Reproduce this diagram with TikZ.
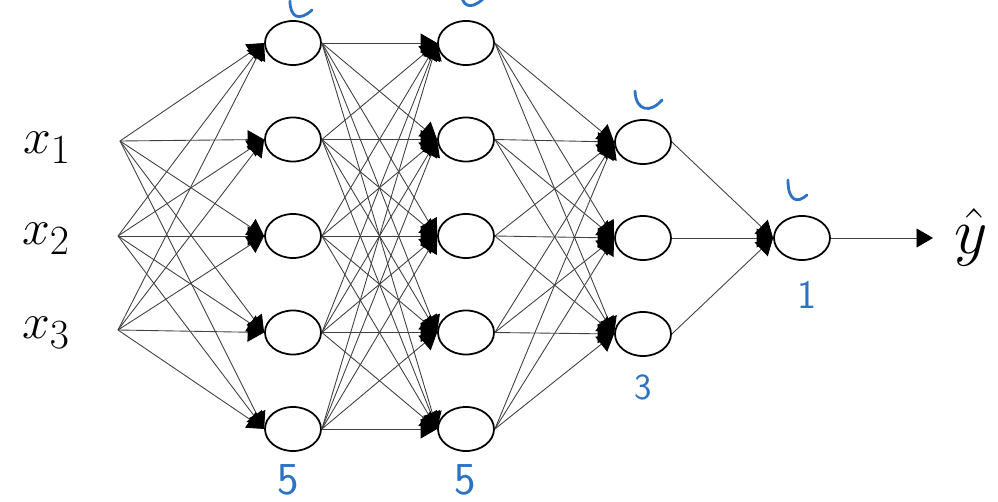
\documentclass[tikz,border=0pt]{standalone}
\usepackage{amsmath}
\usetikzlibrary{calc}
\usetikzlibrary{shapes.geometric}
\usetikzlibrary{arrows.meta}
\definecolor{inkblue}{RGB}{45,115,195}
\tikzset{
	unit/.style={ellipse,draw,line width=1pt,minimum width=11.2mm,minimum height=8.8mm,inner sep=0pt},
	link/.style={draw=black!75,line width=0.5pt,-{Triangle[length=3.3mm,width=3.8mm,color=black]}},
	hand/.style={inkblue,line width=1.6pt,line cap=round},
	handnum/.style={text=inkblue,font=\sffamily\fontsize{26}{28}\selectfont},
	big/.style={font=\fontsize{24.88}{30}\selectfont,scale=1.14}
}

\begin{document}
\begin{tikzpicture}
	\useasboundingbox (0,0) rectangle (19.96,10.04);
	% inputs
	\coordinate (in1) at (2.4,7.22);
	\coordinate (in2) at (2.36,5.32);
	\coordinate (in3) at (2.36,3.44);
	\node[big] (x1) at (0.94,7.08) {$x_1$};
	\node[big] (x2) at (0.92,5.26) {$x_2$};
	\node[big] (x3) at (0.92,3.38) {$x_3$};

	% hidden layers
	\foreach \i/\y in {1/9.18,2/7.25,3/5.32,4/3.39,5/1.46} {
		\node[unit] (a\i) at (5.86,\y) {};
		\node[unit] (b\i) at (9.32,\y) {};
	}
	\foreach \i/\y in {1/7.2,2/5.28,3/3.36}
		\node[unit] (c\i) at (12.86,\y) {};
	\node[unit] (out) at (16.04,5.28) {};

	\foreach \j in {1,...,5} {
		\foreach \i in {1,2,3} \draw[link] (in\i) -- (a\j.west);
		\foreach \i in {1,...,5} \draw[link] (a\i.east) -- (b\j.west);
	}
	\foreach \j in {1,2,3}
		\foreach \i in {1,...,5} \draw[link] (b\i.east) -- (c\j.west);
	\foreach \i in {1,2,3} \draw[link] (c\i.east) -- (out.west);

	\coordinate (tip) at (18.66,5.28);
	\draw[link] (out.east) -- (tip);
	\node[big,scale=1.3] (yhat) at (19.42,5.3) {$\hat{y}$};

	% handwritten notes
	\draw[hand] (5.8,10.02) .. controls (5.8,9.7) and (5.98,9.6) .. (6.24,9.84);
	\draw[hand] (9.22,10.24) .. controls (9.22,9.92) and (9.4,9.82) .. (9.66,10.06);
	\draw[hand] (12.7,8.22) .. controls (12.72,7.8) and (13.02,7.78) .. (13.24,8.04);
	\draw[hand] (15.76,6.44) .. controls (15.76,6.02) and (15.94,5.96) .. (16.14,6.14);
	\node[handnum] (n1) at (5.76,0.44) {5};
	\node[handnum] (n2) at (9.3,0.44) {5};
	\node[handnum,font=\sffamily\fontsize{21}{24}\selectfont] (n3) at (12.86,2.3) {3};
	\node[handnum,font=\sffamily\fontsize{23}{26}\selectfont] (n4) at (16.14,4.14) {1};
\end{tikzpicture}
\end{document}
